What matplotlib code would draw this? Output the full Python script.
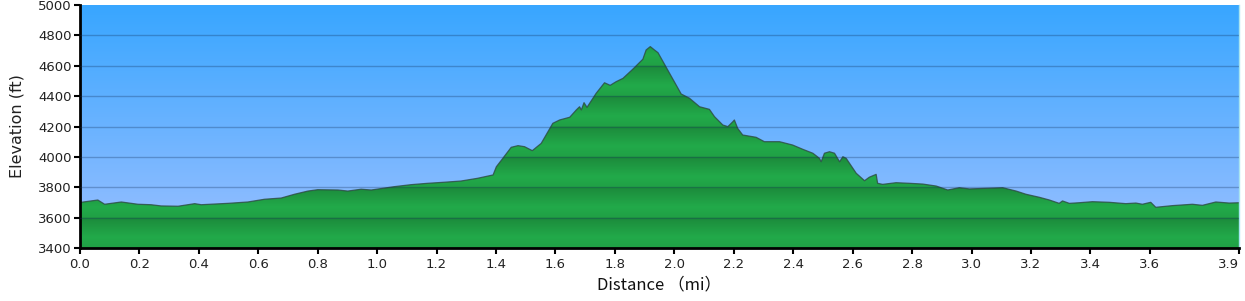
import matplotlib
matplotlib.use("Agg")
import matplotlib.pyplot as plt
import numpy as np
from matplotlib.colors import LinearSegmentedColormap

# distance (mi) / elevation (ft)
dist = [0.0, 0.004, 0.06, 0.083, 0.139, 0.195, 0.239, 0.273, 0.33, 0.386, 0.408,
        0.498, 0.565, 0.621, 0.677, 0.722, 0.767, 0.8, 0.868, 0.901, 0.946, 0.98,
        1.058, 1.114, 1.17, 1.226, 1.282, 1.338, 1.378, 1.39, 1.401, 1.423, 1.451,
        1.474, 1.496, 1.522, 1.552, 1.591, 1.614, 1.648, 1.67, 1.681, 1.687, 1.696,
        1.706, 1.737, 1.765, 1.784, 1.804, 1.827, 1.86, 1.894, 1.905, 1.919, 1.933,
        1.945, 1.984, 2.023, 2.051, 2.085, 2.118, 2.135, 2.163, 2.18, 2.197, 2.202,
        2.213, 2.23, 2.275, 2.303, 2.354, 2.398, 2.432, 2.466, 2.488, 2.494, 2.505,
        2.522, 2.539, 2.556, 2.567, 2.578, 2.612, 2.64, 2.656, 2.679, 2.684, 2.701,
        2.746, 2.791, 2.836, 2.881, 2.92, 2.959, 2.993, 3.049, 3.105, 3.15, 3.183,
        3.228, 3.262, 3.295, 3.306, 3.329, 3.362, 3.407, 3.463, 3.519, 3.553, 3.575,
        3.603, 3.62, 3.676, 3.743, 3.777, 3.822, 3.867, 3.9]
elev = [3700, 3701, 3716, 3688, 3703, 3688, 3685, 3677, 3675, 3692, 3685,
        3694, 3703, 3721, 3729, 3754, 3775, 3784, 3782, 3775, 3787, 3782,
        3804, 3817, 3826, 3833, 3841, 3859, 3876, 3881, 3935, 3991, 4063,
        4074, 4067, 4041, 4089, 4221, 4243, 4261, 4309, 4330, 4309, 4357,
        4326, 4419, 4488, 4471, 4495, 4517, 4577, 4643, 4704, 4726, 4704,
        4686, 4550, 4414, 4386, 4330, 4313, 4265, 4210, 4199, 4232, 4243,
        4188, 4144, 4129, 4100, 4100, 4078, 4050, 4024, 3991, 3968, 4024,
        4034, 4024, 3968, 4001, 3991, 3892, 3843, 3866, 3885, 3826, 3819,
        3830, 3826, 3821, 3808, 3782, 3797, 3789, 3793, 3797, 3775, 3754,
        3734, 3716, 3694, 3710, 3694, 3698, 3705, 3701, 3692, 3696, 3688,
        3701, 3668, 3679, 3688, 3681, 3703, 3696, 3698]

xticks = [0.0, 0.2, 0.4, 0.6, 0.8, 1.0, 1.2, 1.4, 1.6, 1.8, 2.0, 2.2, 2.4,
          2.6, 2.8, 3.0, 3.2, 3.4, 3.6, 3.9]
yticks = [3400, 3600, 3800, 4000, 4200, 4400, 4600, 4800, 5000]

xmin, xmax = 0.0, 3.9
ymin, ymax = 3400, 5000

fig = plt.figure(figsize=(12.45, 3.01), dpi=100)
ax = fig.add_axes([80 / 1245, 53 / 301, 1159 / 1245, 243 / 301])

# sky gradient
sky = LinearSegmentedColormap.from_list("sky", ["#9cc0ff", "#38a6ff"])
grad = np.linspace(0, 1, 256).reshape(-1, 1)
ax.imshow(grad, cmap=sky, origin="lower", aspect="auto",
          extent=[xmin, xmax, ymin, ymax], zorder=0)

# green fill, banded per 200 ft
e = np.linspace(ymin, ymax, 800)
t = ((e - ymin) % 200) / 200.0
green = LinearSegmentedColormap.from_list(
    "grn", [(0.0, "#20a045"), (0.35, "#22aa4a"), (1.0, "#1c8a3b")])
band = green(t)[:, None, :]
poly = ax.fill_between(dist, elev, ymin, color="none", lw=0)
im = ax.imshow(band, origin="lower", aspect="auto",
               extent=[xmin, xmax, ymin, ymax], zorder=1)
im.set_clip_path(poly.get_paths()[0], transform=ax.transData)
ax.plot(dist, elev, color="#2d4a42", lw=0.9, alpha=0.8, zorder=2)

for y in yticks[1:-1]:
    ax.axhline(y, color="#12305a", lw=1, alpha=0.3, zorder=3)

ax.set_xlim(xmin, xmax)
ax.set_ylim(ymin, ymax)
ax.set_xticks(xticks)
ax.set_xticklabels(["%.1f" % v for v in xticks])
ax.get_xticklabels()[-1].set_horizontalalignment("right")
ax.set_yticks(yticks)

ax.spines["top"].set_visible(False)
ax.spines["right"].set_color("#a8e4f0")
ax.spines["right"].set_linewidth(1)
ax.spines["left"].set_linewidth(2)
ax.spines["bottom"].set_linewidth(2)
ax.tick_params(direction="out", length=4, width=1.5, labelsize=9.5,
               labelcolor="#222222", pad=3)
ax.tick_params(axis="y", pad=2)

ax.set_ylabel("Elevation (ft)", fontsize=11.5, color="#222222", labelpad=10)
ax.set_xlabel("Distance （mi）", fontsize=12, color="#111111",
              family=["Noto Sans CJK JP", "DejaVu Sans"], labelpad=4)

fig.savefig("out.png", dpi=100)
